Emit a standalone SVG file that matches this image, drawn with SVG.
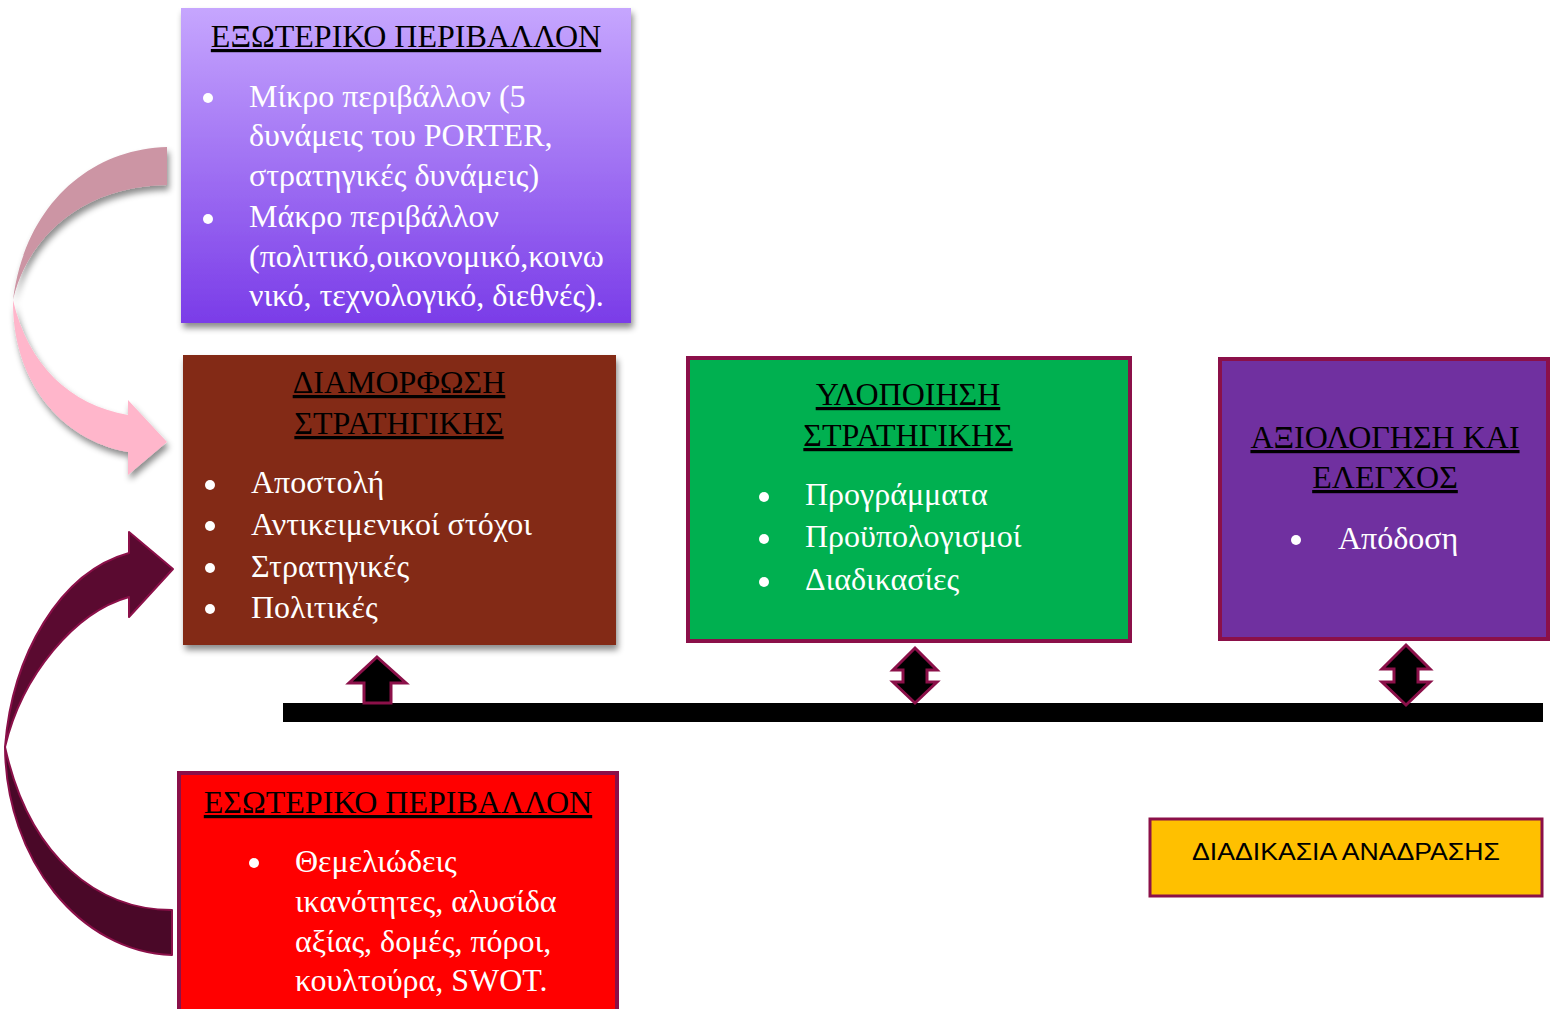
<svg xmlns="http://www.w3.org/2000/svg" width="1553" height="1009" viewBox="0 0 1553 1009">
<style>
.t{font-family:"Liberation Serif","Times New Roman",serif;font-size:32px;fill:#000;text-decoration:underline;text-anchor:middle}
.b{font-family:"Liberation Serif","Times New Roman",serif;font-size:32px;fill:#fff}
.dot{fill:#fff}
.bd{stroke:#8b1049;stroke-width:4}
.ar{fill:#000;stroke:#8b1049;stroke-width:3;stroke-linejoin:miter}
</style>
<defs>
<linearGradient id="g1" x1="0" y1="0" x2="0" y2="1">
<stop offset="0" stop-color="#c6a6fe"/>
<stop offset="1" stop-color="#7a3ce8"/>
</linearGradient>
<filter id="sh" x="-10%" y="-10%" width="120%" height="125%">
<feDropShadow dx="2" dy="5" stdDeviation="3" flood-color="#000" flood-opacity="0.45"/>
</filter>
</defs>
<rect width="1553" height="1009" fill="#fff"/>

<g id="connectors">
<g id="arrow-external" filter="url(#sh)">
<path d="M167,147 C90,149 25,205 13,300 C28,235 85,186 167,185 Z" fill="#cc95a4"/>
<path d="M13,300 C12,380 60,440 128,452 L128,475 L167,442 L128,400 L128,415 C70,405 28,365 13,300 Z" fill="#ffb6cb"/>
</g>
<g id="arrow-internal">
<path d="M129,553 L129,532 L173,569 L129,617 L129,597 C75,612 22,675 5,747 C12,655 60,572 129,553 Z" fill="#5a0a30" stroke="#8b1049" stroke-width="2" stroke-linejoin="round"/>
<path d="M5,747 C6,860 80,952 172,955 L172,910 C100,910 30,860 5,747 Z" fill="#4a0828" stroke="#8b1049" stroke-width="2" stroke-linejoin="round"/>
</g>
<rect id="bar" x="283" y="703" width="1260" height="19" fill="#000"/>
<polygon class="ar" points="377,657 406,683 391,683 391,703 364,703 364,683 349,683"/>
<polygon class="ar" points="915,648 937,670 927,670 927,682 937,682 915,703 893,682 903,682 903,670 893,670"/>
<polygon class="ar" points="1406,645 1430,669 1418,669 1418,682 1430,682 1406,705 1382,682 1394,682 1394,669 1382,669"/>
</g>

<g id="node-external">
<rect x="181" y="8" width="450" height="315" fill="url(#g1)" filter="url(#sh)"/>
<text class="t" x="406" y="47">ΕΞΩΤΕΡΙΚΟ ΠΕΡΙΒΑΛΛΟΝ</text>
<circle class="dot" cx="208" cy="98" r="5"/>
<circle class="dot" cx="208" cy="219" r="5"/>
<text class="b" x="249" y="107">Μίκρο περιβάλλον (5</text>
<text class="b" x="249" y="146">δυνάμεις του PORTER,</text>
<text class="b" x="249" y="186">στρατηγικές δυνάμεις)</text>
<text class="b" x="249" y="227">Μάκρο περιβάλλον</text>
<text class="b" x="249" y="267">(πολιτικό,οικονομικό,κοινω</text>
<text class="b" x="249" y="306">νικό, τεχνολογικό, διεθνές).</text>
</g>

<g id="node-formulation">
<rect x="183" y="355" width="433" height="290" fill="#832a14" filter="url(#sh)"/>
<text class="t" x="399" y="393">ΔΙΑΜΟΡΦΩΣΗ</text>
<text class="t" x="399" y="434">ΣΤΡΑΤΗΓΙΚΗΣ</text>
<circle class="dot" cx="210" cy="485" r="5"/>
<circle class="dot" cx="210" cy="526" r="5"/>
<circle class="dot" cx="210" cy="568" r="5"/>
<circle class="dot" cx="210" cy="609" r="5"/>
<text class="b" x="251" y="493">Αποστολή</text>
<text class="b" x="251" y="535">Αντικειμενικοί στόχοι</text>
<text class="b" x="251" y="577">Στρατηγικές</text>
<text class="b" x="251" y="618">Πολιτικές</text>
</g>

<g id="node-implementation">
<rect class="bd" x="688" y="358" width="442" height="283" fill="#00b050"/>
<text class="t" x="908" y="405">ΥΛΟΠΟΙΗΣΗ</text>
<text class="t" x="908" y="446">ΣΤΡΑΤΗΓΙΚΗΣ</text>
<circle class="dot" cx="764" cy="497" r="5"/>
<circle class="dot" cx="764" cy="539" r="5"/>
<circle class="dot" cx="764" cy="582" r="5"/>
<text class="b" x="805" y="505">Προγράμματα</text>
<text class="b" x="805" y="547">Προϋπολογισμοί</text>
<text class="b" x="805" y="590">Διαδικασίες</text>
</g>

<g id="node-evaluation">
<rect class="bd" x="1220" y="359" width="328" height="280" fill="#7030a0"/>
<text class="t" x="1385" y="448">ΑΞΙΟΛΟΓΗΣΗ ΚΑΙ</text>
<text class="t" x="1385" y="488">ΕΛΕΓΧΟΣ</text>
<circle class="dot" cx="1296" cy="540" r="5"/>
<text class="b" x="1338" y="549">Απόδοση</text>
</g>

<g id="node-internal">
<rect class="bd" x="179" y="773" width="438" height="250" fill="#ff0000"/>
<text class="t" x="398" y="813">ΕΣΩΤΕΡΙΚΟ ΠΕΡΙΒΑΛΛΟΝ</text>
<circle class="dot" cx="254" cy="863" r="5"/>
<text class="b" x="295" y="872">Θεμελιώδεις</text>
<text class="b" x="295" y="912">ικανότητες, αλυσίδα</text>
<text class="b" x="295" y="952">αξίας, δομές, πόροι,</text>
<text class="b" x="295" y="991">κουλτούρα, SWOT.</text>
</g>

<g id="node-feedback">
<rect x="1150" y="819" width="392" height="77" fill="#ffc000" stroke="#8b1049" stroke-width="3"/>
<text x="1346" y="860" font-family="'Liberation Sans',Arial,sans-serif" font-size="24" fill="#000" text-anchor="middle" textLength="308" lengthAdjust="spacingAndGlyphs">ΔΙΑΔΙΚΑΣΙΑ ΑΝΑΔΡΑΣΗΣ</text>
</g>
</svg>
